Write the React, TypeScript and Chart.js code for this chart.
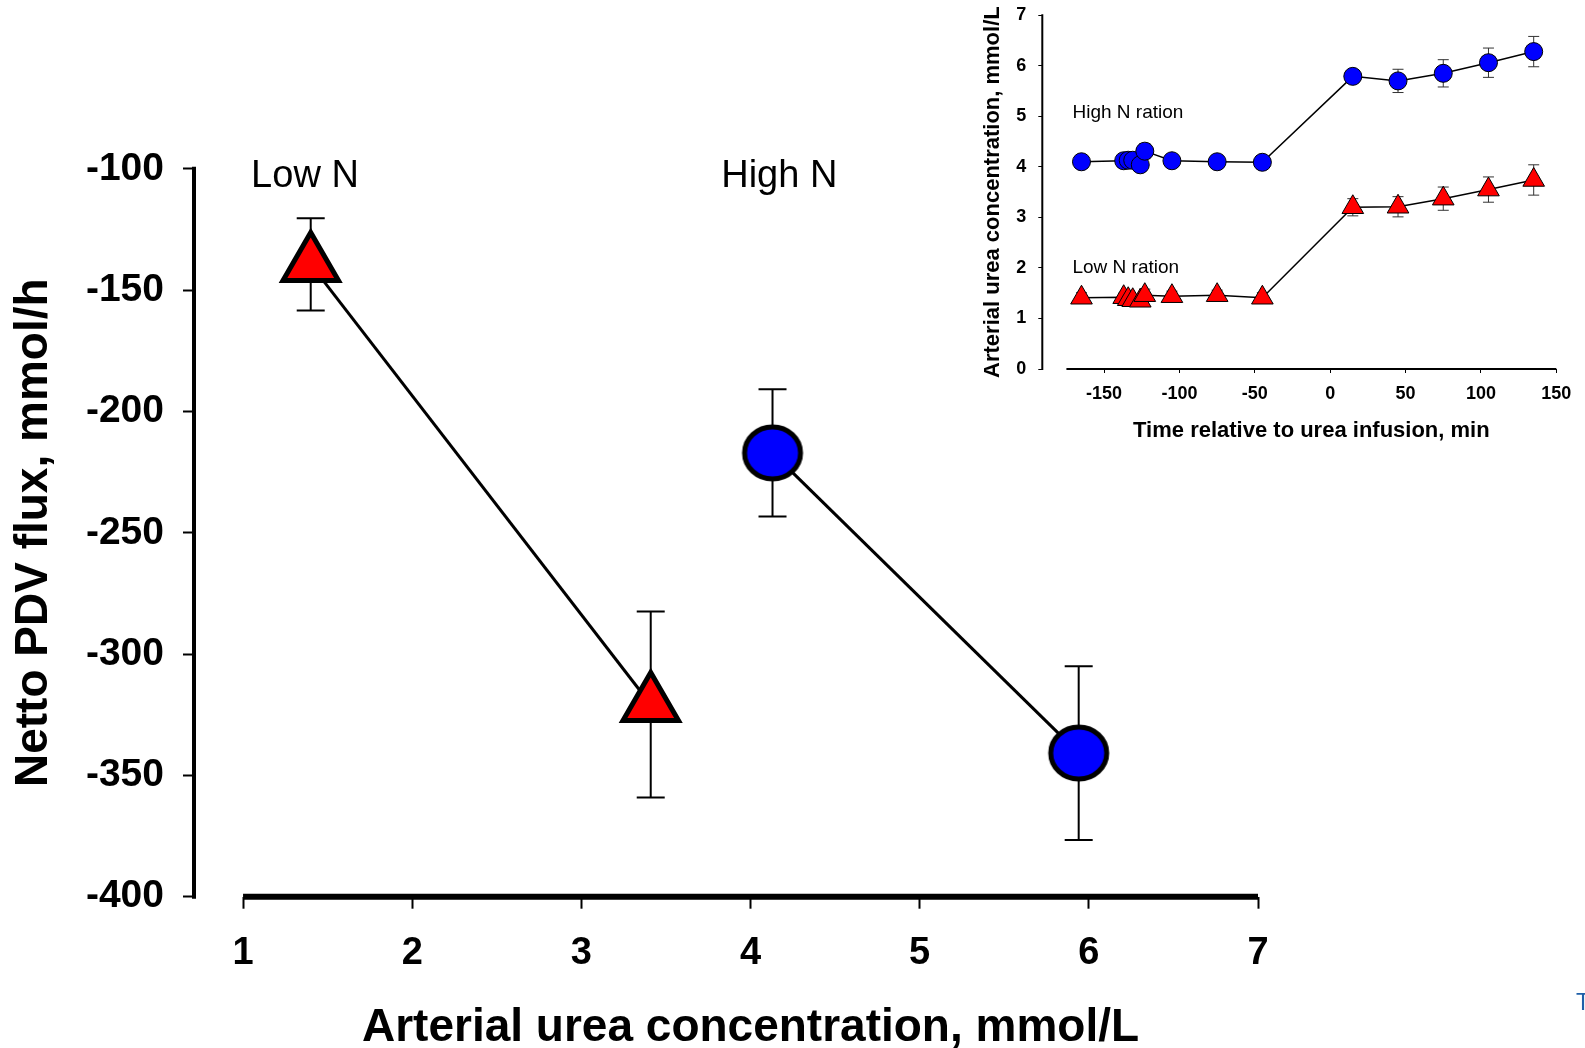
import React, { useEffect, useRef } from 'react';
import { Chart, registerables } from 'chart.js';

Chart.register(...registerables);

const FONT = "'Liberation Sans', Arial, Helvetica, sans-serif";

// ---------- Main chart data ----------
const MAIN_X_TICKS = [1, 2, 3, 4, 5, 6, 7];
const MAIN_Y_TICKS = [-100, -150, -200, -250, -300, -350, -400];
const LOW_N_UREA = [1.4, 3.41];
const LOW_N_FLUX = [-139.4, -320.8];
const LOW_N_FLUX_SE = [19.0, 38.3];
const HIGH_N_UREA = [4.13, 5.94];
const HIGH_N_FLUX = [-217.1, -340.8];
const HIGH_N_FLUX_SE = [26.2, 35.8];
const MAIN_LABELS = ['Low N', 'High N'];
const MAIN_LABEL_X = [1.366, 4.17];
const MAIN_LABEL_Y = [-107.5, -107.5];

// ---------- Inset chart data ----------
const INSET_TIME = [-165, -137, -134, -131, -126, -123, -105, -75, -45, 15, 45, 75, 105, 135];
const INSET_HIGH_N = [4.10, 4.12, 4.13, 4.13, 4.04, 4.31, 4.12, 4.10, 4.09, 5.79, 5.70, 5.85, 6.06, 6.28];
const INSET_HIGH_N_SE = [0.06, 0.05, 0.05, 0.05, 0.05, 0.15, 0.06, 0.06, 0.1, 0.1, 0.23, 0.27, 0.29, 0.30];
const INSET_LOW_N = [1.41, 1.42, 1.38, 1.36, 1.35, 1.46, 1.44, 1.46, 1.41, 3.20, 3.21, 3.37, 3.55, 3.74];
const INSET_LOW_N_SE = [0.1, 0.08, 0.08, 0.08, 0.08, 0.12, 0.1, 0.1, 0.1, 0.17, 0.2, 0.23, 0.25, 0.30];
const INSET_X_TICKS = [-150, -100, -50, 0, 50, 100, 150];
const INSET_Y_TICKS = [0, 1, 2, 3, 4, 5, 6, 7];
const INSET_LABELS = ['High N ration', 'Low N ration'];
const INSET_LABEL_X = [-171, -171];
const INSET_LABEL_Y = [5.06, 2.01];

const sigmaPlugin: any = {
  id: 'sigma',
  beforeDatasetsDraw(chart: any, _args: any, opts: any) {
    const { ctx, scales } = chart;
    const x = scales.x;
    const y = scales.y;
    ctx.save();
    ctx.strokeStyle = '#000';
    ctx.lineCap = 'butt';
    // x axis line
    const y0 = y.getPixelForValue(opts.xAxisAt);
    ctx.lineWidth = opts.xAxisWidth;
    ctx.beginPath();
    ctx.moveTo(x.getPixelForValue(opts.xAxisFrom), y0);
    ctx.lineTo(x.getPixelForValue(opts.xAxisTo), y0);
    ctx.stroke();
    // y axis line
    const x0 = chart.chartArea.left;
    ctx.lineWidth = opts.yAxisWidth;
    ctx.beginPath();
    ctx.moveTo(x0, y.getPixelForValue(opts.yAxisFrom) - opts.yAxisWidth / 2);
    ctx.lineTo(x0, y.getPixelForValue(opts.yAxisTo) + opts.yAxisWidth / 2);
    ctx.stroke();
    // error bars
    chart.data.datasets.forEach((ds: any) => {
      if (!ds.errors) return;
      ctx.strokeStyle = ds.errorColor;
      ctx.lineWidth = ds.errorWidth;
      ds.data.forEach((p: any, j: number) => {
        const px = x.getPixelForValue(p.x);
        const t = y.getPixelForValue(p.y + ds.errors[j]);
        const b = y.getPixelForValue(p.y - ds.errors[j]);
        const c = ds.capHalf;
        ctx.beginPath();
        ctx.moveTo(px, t);
        ctx.lineTo(px, b);
        ctx.moveTo(px - c, t);
        ctx.lineTo(px + c, t);
        ctx.moveTo(px - c, b);
        ctx.lineTo(px + c, b);
        ctx.stroke();
      });
    });
    ctx.restore();
  },
  afterDraw(chart: any, _args: any, opts: any) {
    const { ctx, scales } = chart;
    const x = scales.x;
    const y = scales.y;
    ctx.save();
    ctx.fillStyle = '#000';
    ctx.font = opts.xTitleFont;
    ctx.textAlign = 'center';
    ctx.textBaseline = 'middle';
    const cx = (x.getPixelForValue(opts.xAxisFrom) + x.getPixelForValue(opts.xAxisTo)) / 2;
    ctx.fillText(opts.xTitle, cx, y.getPixelForValue(opts.xAxisAt) + opts.xTitleOffset);
    (opts.labels || []).forEach((l: any) => {
      ctx.font = l.font;
      ctx.textAlign = l.align;
      ctx.textBaseline = l.baseline;
      ctx.fillText(l.text, x.getPixelForValue(l.x), y.getPixelForValue(l.y));
    });
    ctx.restore();
  },
};

function makeEllipse(rx: number, ry: number, lw: number, fill: string) {
  const c = document.createElement('canvas');
  c.width = Math.ceil(2 * (rx + lw));
  c.height = Math.ceil(2 * (ry + lw));
  const g = c.getContext('2d')!;
  g.beginPath();
  g.ellipse(c.width / 2, c.height / 2, rx, ry, 0, 0, Math.PI * 2);
  g.fillStyle = fill;
  g.fill();
  g.lineWidth = lw;
  g.strokeStyle = '#000';
  g.stroke();
  return c;
}

function tickFont(size: number) {
  return { family: FONT, size, weight: 'bold' as const, lineHeight: 1.2 };
}

export default function App() {
  const mainRef = useRef<HTMLCanvasElement>(null);
  const insetRef = useRef<HTMLCanvasElement>(null);

  useEffect(() => {
    Chart.defaults.font.family = FONT;
    const ellipse = makeEllipse(28, 26, 5, '#0000ff');

    const main = new Chart(mainRef.current!, {
      type: 'scatter',
      data: {
        datasets: [
          {
            label: 'Low N',
            data: LOW_N_UREA.map((v, i) => ({ x: v, y: LOW_N_FLUX[i] })),
            showLine: true,
            borderColor: '#000',
            borderWidth: 3,
            pointStyle: 'triangle',
            pointRadius: 32,
            pointBorderWidth: 5,
            pointBackgroundColor: '#ff0000',
            pointBorderColor: '#000',
            clip: false,
            errors: LOW_N_FLUX_SE,
            errorColor: '#000',
            errorWidth: 2,
            capHalf: 14,
          } as any,
          {
            label: 'High N',
            data: HIGH_N_UREA.map((v, i) => ({ x: v, y: HIGH_N_FLUX[i] })),
            showLine: true,
            borderColor: '#000',
            borderWidth: 3,
            pointStyle: ellipse as any,
            pointRadius: 30,
            clip: false,
            errors: HIGH_N_FLUX_SE,
            errorColor: '#000',
            errorWidth: 2,
            capHalf: 14,
          } as any,
        ],
      },
      options: {
        animation: false,
        responsive: false,
        events: [],
        layout: { padding: { top: 168.8, right: 327, bottom: 0, left: 0 } },
        plugins: {
          legend: { display: false },
          tooltip: { enabled: false },
          sigma: {
            xAxisFrom: 1,
            xAxisTo: 7,
            xAxisAt: -400,
            xAxisWidth: 6,
            yAxisFrom: -100,
            yAxisTo: -400,
            yAxisWidth: 4,
            xTitle: 'Arterial urea concentration, mmol/L',
            xTitleFont: `bold 46px ${FONT}`,
            xTitleOffset: 132,
            labels: MAIN_LABELS.map((t, i) => ({
              text: t,
              x: MAIN_LABEL_X[i],
              y: MAIN_LABEL_Y[i],
              font: `38px ${FONT}`,
              align: 'center',
              baseline: 'alphabetic',
            })),
          },
        } as any,
        scales: {
          x: {
            type: 'linear',
            min: 0.71,
            max: 7,
            afterBuildTicks: (s: any) => {
              s.ticks = MAIN_X_TICKS.map((v) => ({ value: v }));
            },
            afterFit: (s: any) => {
              s.height = 1048 - 896.7;
              s.paddingLeft = 0;
              s.paddingRight = 0;
            },
            border: { display: false },
            grid: { display: true, drawOnChartArea: false, drawTicks: true, tickLength: 12, tickWidth: 2, tickColor: '#000' },
            ticks: { font: tickFont(38), color: '#000', padding: 22, maxRotation: 0, autoSkip: false, callback: (v: any) => String(v) },
          },
          y: {
            type: 'linear',
            min: -400,
            max: -100,
            afterBuildTicks: (s: any) => {
              s.ticks = MAIN_Y_TICKS.map((v) => ({ value: v }));
            },
            afterFit: (s: any) => {
              s.width = 194;
              s.paddingTop = 0;
              s.paddingBottom = 0;
            },
            border: { display: false },
            grid: { display: true, drawOnChartArea: false, drawTicks: true, tickLength: 11, tickWidth: 2, tickColor: '#000' },
            ticks: { font: tickFont(39), color: '#000', padding: 19, autoSkip: false, callback: (v: any) => String(v) },
            title: {
              display: true,
              text: 'Netto PDV flux, mmol/h',
              color: '#000',
              font: { family: FONT, size: 46, weight: 'bold', lineHeight: 1.2 },
              padding: { top: 7, bottom: 0 },
            },
          },
        },
      },
      plugins: [sigmaPlugin],
    });

    const inset = new Chart(insetRef.current!, {
      type: 'scatter',
      data: {
        datasets: [
          {
            label: 'High N ration',
            data: INSET_TIME.map((t, i) => ({ x: t, y: INSET_HIGH_N[i] })),
            showLine: true,
            borderColor: '#000',
            borderWidth: 1.5,
            pointStyle: 'circle',
            pointRadius: 9,
            pointBorderWidth: 1,
            pointBackgroundColor: '#0000ff',
            pointBorderColor: '#000',
            clip: false,
            errors: INSET_HIGH_N_SE,
            errorColor: '#333',
            errorWidth: 1,
            capHalf: 5.5,
          } as any,
          {
            label: 'Low N ration',
            data: INSET_TIME.map((t, i) => ({ x: t, y: INSET_LOW_N[i] })),
            showLine: true,
            borderColor: '#000',
            borderWidth: 1.5,
            pointStyle: 'triangle',
            pointRadius: 12.5,
            pointBorderWidth: 1,
            pointBackgroundColor: '#ff0000',
            pointBorderColor: '#000',
            clip: false,
            errors: INSET_LOW_N_SE,
            errorColor: '#333',
            errorWidth: 1,
            capHalf: 5.5,
          } as any,
        ],
      },
      options: {
        animation: false,
        responsive: false,
        events: [],
        layout: { padding: { top: 15.2, right: 28.7, bottom: 0, left: 0 } },
        plugins: {
          legend: { display: false },
          tooltip: { enabled: false },
          sigma: {
            xAxisFrom: -175,
            xAxisTo: 150,
            xAxisAt: 0,
            xAxisWidth: 2,
            yAxisFrom: 7,
            yAxisTo: 0,
            yAxisWidth: 2,
            xTitle: 'Time relative to urea infusion, min',
            xTitleFont: `bold 22px ${FONT}`,
            xTitleOffset: 62,
            labels: INSET_LABELS.map((t, i) => ({
              text: t,
              x: INSET_LABEL_X[i],
              y: INSET_LABEL_Y[i],
              font: `19px ${FONT}`,
              align: 'left',
              baseline: 'middle',
            })),
          },
        } as any,
        scales: {
          x: {
            type: 'linear',
            min: -191,
            max: 150,
            afterBuildTicks: (s: any) => {
              s.ticks = INSET_X_TICKS.map((v) => ({ value: v }));
            },
            afterFit: (s: any) => {
              s.height = 445 - 369;
              s.paddingLeft = 0;
              s.paddingRight = 0;
            },
            border: { display: false },
            grid: { display: true, drawOnChartArea: false, drawTicks: true, tickLength: 4, tickWidth: 1, tickColor: '#000' },
            ticks: { font: tickFont(18), color: '#000', padding: 10, maxRotation: 0, autoSkip: false, callback: (v: any) => String(v) },
          },
          y: {
            type: 'linear',
            min: 0,
            max: 7,
            afterBuildTicks: (s: any) => {
              s.ticks = INSET_Y_TICKS.map((v) => ({ value: v }));
            },
            afterFit: (s: any) => {
              s.width = 82.3;
              s.paddingTop = 0;
              s.paddingBottom = 0;
            },
            border: { display: false },
            grid: { display: true, drawOnChartArea: false, drawTicks: true, tickLength: 4, tickWidth: 1, tickColor: '#000' },
            ticks: { font: tickFont(18), color: '#000', padding: 12, autoSkip: false, callback: (v: any) => String(v) },
            title: {
              display: true,
              text: 'Arterial urea concentration, mmol/L',
              color: '#000',
              font: { family: FONT, size: 22, weight: 'bold', lineHeight: 1.2 },
              padding: { top: 20, bottom: 0 },
            },
          },
        },
      },
      plugins: [sigmaPlugin],
    });

    return () => {
      main.destroy();
      inset.destroy();
    };
  }, []);

  return (
    <div
      style={{
        position: 'fixed',
        left: 0,
        top: 0,
        width: 1585,
        height: 1048,
        background: '#fff',
        overflow: 'hidden',
      }}
    >
      <canvas ref={mainRef} width={1585} height={1048} style={{ position: 'absolute', left: 0, top: 0 }} />
      <canvas ref={insetRef} width={625} height={445} style={{ position: 'absolute', left: 960, top: 0 }} />
      <div
        style={{
          position: 'absolute',
          left: 1576,
          top: 991,
          fontFamily: FONT,
          fontSize: 23,
          lineHeight: 1,
          color: '#1f5fa8',
        }}
      >
        T
      </div>
    </div>
  );
}
